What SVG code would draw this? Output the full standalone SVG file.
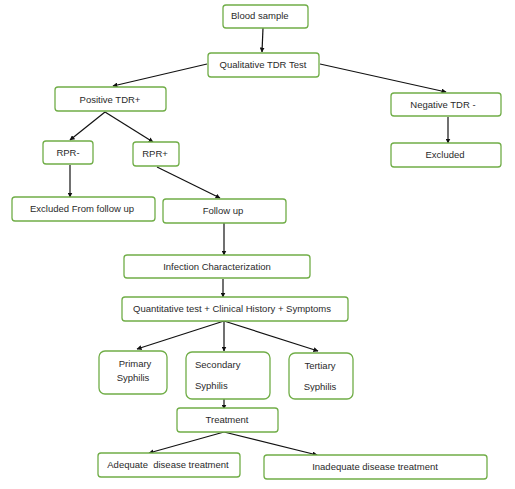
<svg xmlns="http://www.w3.org/2000/svg" width="515" height="489" viewBox="0 0 515 489">
<style>
.box{fill:#fff;stroke:#70ad47;stroke-width:1.3}
.t{font-family:"Liberation Sans",Arial,sans-serif;font-size:9.5px;fill:#2a2a2a;text-anchor:middle}
.ts{font-family:"Liberation Sans",Arial,sans-serif;font-size:9.5px;fill:#2a2a2a}
.c{stroke:#111;stroke-width:1.2;fill:none;marker-end:url(#ah)}
</style>
<defs>
<marker id="ah" viewBox="0 0 10 10" refX="9" refY="5" markerWidth="5" markerHeight="5" orient="auto" markerUnits="userSpaceOnUse">
<path d="M0,0 L10,5 L0,10 z" fill="#111"/>
</marker>
<clipPath id="clipT"><rect x="289" y="353" width="64" height="38.5"/></clipPath>
</defs>
<rect width="515" height="489" fill="#fff"/>
<g id="connectors">
<line class="c" x1="263" y1="28" x2="262" y2="52"/>
<line class="c" x1="207" y1="64" x2="113" y2="86"/>
<line class="c" x1="320" y1="64" x2="446" y2="92"/>
<line class="c" x1="448" y1="117" x2="448" y2="143"/>
<line class="c" x1="105" y1="112" x2="70" y2="140"/>
<line class="c" x1="105" y1="112" x2="153" y2="142"/>
<line class="c" x1="70" y1="165" x2="70" y2="197"/>
<line class="c" x1="157" y1="167" x2="220" y2="198"/>
<line class="c" x1="224" y1="223" x2="224" y2="255"/>
<line class="c" x1="223" y1="279" x2="223" y2="297"/>
<line class="c" x1="224" y1="321" x2="137" y2="349"/>
<line class="c" x1="224" y1="321" x2="224" y2="351"/>
<line class="c" x1="224" y1="321" x2="318" y2="351"/>
<line class="c" x1="224" y1="395" x2="224" y2="409"/>
<line class="c" x1="224" y1="432" x2="149" y2="453"/>
<line class="c" x1="224" y1="432" x2="317" y2="455"/>
</g>
<g id="blood"><rect class="box" x="223" y="5" width="85" height="23" rx="3"/><text class="ts" x="231" y="19">Blood sample</text></g>
<g id="qual"><rect class="box" x="208" y="53" width="111" height="24" rx="3"/><text class="t" x="263" y="68">Qualitative TDR Test</text></g>
<g id="pos"><rect class="box" x="55" y="87" width="111" height="24" rx="3"/><text class="t" x="110" y="103">Positive TDR+</text></g>
<g id="neg"><rect class="box" x="391" y="93" width="110" height="23" rx="3"/><text class="t" x="443" y="108">Negative TDR -</text></g>
<g id="excl"><rect class="box" x="391" y="143" width="110" height="24" rx="3"/><text class="t" x="445" y="158">Excluded</text></g>
<g id="rprneg"><rect class="box" x="43" y="141" width="50" height="23" rx="3"/><text class="t" x="68" y="156">RPR-</text></g>
<g id="rprpos"><rect class="box" x="133" y="142" width="46" height="24" rx="3"/><text class="t" x="155" y="157">RPR+</text></g>
<g id="exclfu"><rect class="box" x="12" y="197" width="143" height="24" rx="3"/><text class="t" x="82" y="212">Excluded From follow up</text></g>
<g id="followup"><rect class="box" x="163" y="199" width="123" height="24" rx="3"/><text class="t" x="223" y="214">Follow up</text></g>
<g id="infection"><rect class="box" x="124" y="255" width="186" height="23" rx="3"/><text class="t" x="217" y="270">Infection Characterization</text></g>
<g id="quant"><rect class="box" x="122" y="297" width="226" height="24" rx="3"/><text class="t" x="232" y="312">Quantitative test + Clinical History + Symptoms</text></g>
<g id="primary"><rect class="box" x="99" y="351" width="68" height="43" rx="6"/><text class="t" x="135" y="367">Primary</text><text class="t" x="133" y="381">Syphilis</text></g>
<g id="secondary"><rect class="box" x="186" y="352" width="84" height="47" rx="6"/><text class="ts" x="195" y="368">Secondary</text><text class="ts" x="195" y="389">Syphilis</text></g>
<g id="tertiary"><rect class="box" x="289" y="353" width="64" height="46" rx="6"/><text class="t" x="320" y="369">Tertiary</text><text class="t" x="320" y="390" clip-path="url(#clipT)">Syphilis</text></g>
<g id="treatment"><rect class="box" x="177" y="408" width="101" height="24" rx="3"/><text class="t" x="227" y="423">Treatment</text></g>
<g id="adequate"><rect class="box" x="98" y="453" width="142" height="24" rx="3"/><text class="t" x="168" y="468" xml:space="preserve">Adequate  disease treatment</text></g>
<g id="inadequate"><rect class="box" x="264" y="455" width="223" height="24" rx="3"/><text class="t" x="375" y="470">Inadequate disease treatment</text></g>
</svg>
